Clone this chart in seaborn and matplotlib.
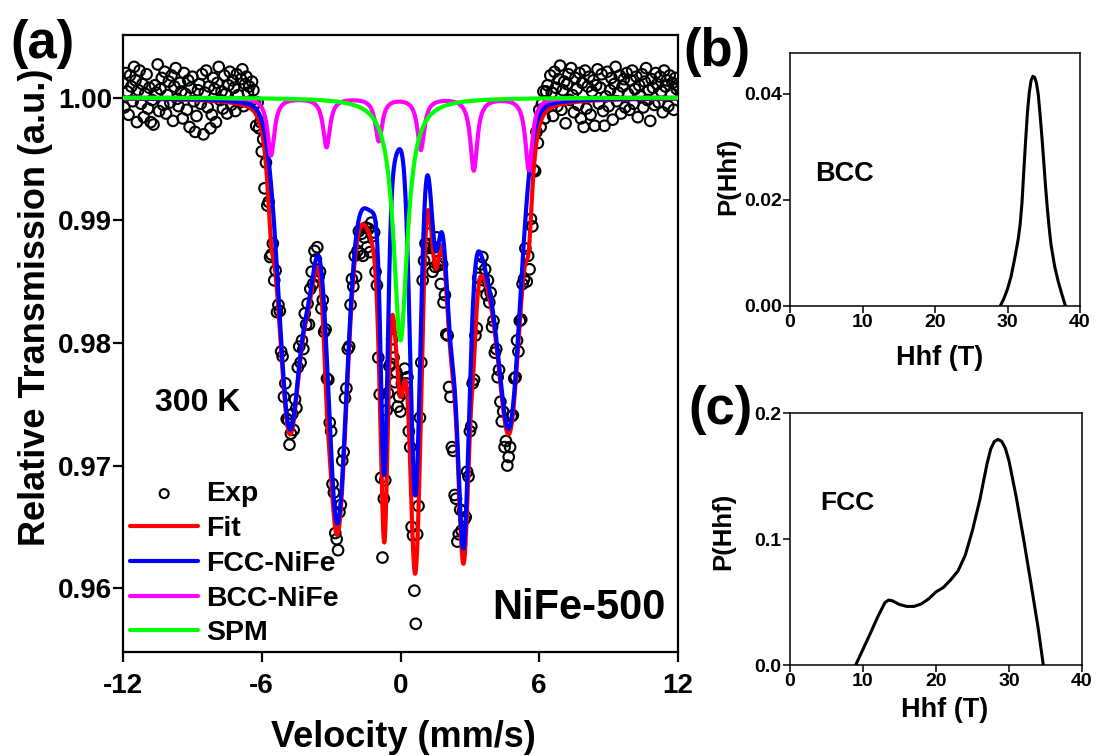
import numpy as np
import matplotlib
matplotlib.use("Agg")
import matplotlib.pyplot as plt
from matplotlib.ticker import FormatStrFormatter
import seaborn as sns

sns.set_theme(style="ticks")
plt.rcParams.update({
    "font.family": ["Liberation Sans", "DejaVu Sans"],
    "font.weight": "bold",
    "axes.labelweight": "bold",
    "axes.unicode_minus": False,
    "axes.edgecolor": "black",
    "axes.labelcolor": "black",
    "text.color": "black",
    "xtick.color": "black",
    "ytick.color": "black",
})

# ---------------- measured spectrum (400 channels, -12 ... +12 mm/s) ----------------
exp_left = [1.0012, 0.9992, 1.0020, 1.0005, 0.9986, 1.0018, 1.0009, 0.9997, 1.0025, 1.0014, 0.9980, 1.0006, 1.0022, 0.9995, 1.0011, 0.9984, 1.0003, 1.0019, 0.9991, 1.0008,
            0.9980, 0.9998, 0.9978, 1.0010, 1.0004, 1.0027, 0.9989, 1.0007, 1.0016, 0.9994, 1.0021, 0.9987, 1.0002, 1.0013, 0.9996, 1.0018, 0.9981, 1.0009, 1.0024, 0.9999,
            0.9993, 1.0012, 1.0005, 0.9983, 1.0020, 1.0003, 0.9990, 1.0014, 0.9976, 1.0008, 1.0017, 0.9997, 0.9972, 0.9985, 1.0006, 1.0011, 0.9995, 1.0019, 0.9970, 1.0004,
            1.0022, 0.9992, 1.0009, 0.9975, 0.9986, 1.0016, 1.0007, 0.9980, 1.0012, 1.0025, 0.9998, 1.0005, 0.9991, 1.0018, 1.0003, 0.9987, 1.0010, 1.0021, 0.9994, 1.0014,
            1.0008, 0.9989, 1.0019, 1.0002, 0.9996, 1.0015, 1.0023, 0.9993, 1.0011, 1.0017, 1.0004, 1.0009, 0.9997, 1.0013, 1.0006]
exp_mid = [0.9995, 0.9977, 0.9996, 0.9975, 0.9980, 0.9956, 0.9966, 0.9926, 0.9947, 0.9912, 0.9915, 0.9870, 0.9872, 0.9881, 0.9851, 0.9859, 0.9825, 0.9831, 0.9826, 0.9793,
           0.9789, 0.9756, 0.9767, 0.9738, 0.9737, 0.9717, 0.9726, 0.9742, 0.9729, 0.9754, 0.9747, 0.9780, 0.9797, 0.9784, 0.9802, 0.9795, 0.9824, 0.9815, 0.9832, 0.9815,
           0.9844, 0.9858, 0.9848, 0.9875, 0.9868, 0.9878, 0.9854, 0.9858, 0.9828, 0.9835, 0.9809, 0.9811, 0.9771, 0.9770, 0.9735, 0.9728, 0.9685, 0.9678, 0.9645, 0.9640,
           0.9631, 0.9662, 0.9668, 0.9704, 0.9711, 0.9755, 0.9763, 0.9795, 0.9797, 0.9831, 0.9852, 0.9846, 0.9871, 0.9854, 0.9875, 0.9891, 0.9873, 0.9889, 0.9871, 0.9886,
           0.9894, 0.9878, 0.9893, 0.9874, 0.9898, 0.9887, 0.9890, 0.9858, 0.9847, 0.9788, 0.9758, 0.9690, 0.9625, 0.9673, 0.9688, 0.9745, 0.9759, 0.9781, 0.9783, 0.9803,
           0.9788, 0.9768, 0.9776, 0.9748, 0.9756, 0.9744, 0.9767, 0.9759, 0.9779, 0.9767, 0.9772, 0.9728, 0.9715, 0.9650, 0.9643, 0.9598, 0.9571, 0.9644, 0.9667, 0.9739,
           0.9784, 0.9851, 0.9867, 0.9881, 0.9880, 0.9889, 0.9869, 0.9878, 0.9858, 0.9878, 0.9862, 0.9886, 0.9863, 0.9867, 0.9848, 0.9864, 0.9833, 0.9839, 0.9807, 0.9806,
           0.9764, 0.9756, 0.9715, 0.9712, 0.9676, 0.9673, 0.9638, 0.9644, 0.9664, 0.9647, 0.9663, 0.9656, 0.9658, 0.9695, 0.9691, 0.9728, 0.9732, 0.9767, 0.9770, 0.9806,
           0.9812, 0.9853, 0.9846, 0.9864, 0.9870, 0.9851, 0.9860, 0.9839, 0.9851, 0.9833, 0.9841, 0.9813, 0.9818, 0.9792, 0.9795, 0.9772, 0.9778, 0.9752, 0.9736, 0.9744,
           0.9715, 0.9720, 0.9700, 0.9707, 0.9715, 0.9740, 0.9741, 0.9771, 0.9772, 0.9802, 0.9793, 0.9818, 0.9819, 0.9848, 0.9852, 0.9877, 0.9850, 0.9871, 0.9860, 0.9901,
           0.9895, 0.9941, 0.9940, 0.9972, 0.9963, 0.9990, 0.9976, 0.9995, 1.0005, 0.9983, 1.0005]
exp_right = [1.0010, 0.9996, 1.0018, 1.0004, 0.9985, 1.0021, 1.0008, 0.9993, 1.0015, 1.0026, 0.9990, 1.0006, 1.0013, 0.9979, 1.0011, 1.0019, 0.9998, 1.0024, 1.0002, 0.9988,
             1.0016, 1.0007, 0.9994, 1.0020, 0.9983, 1.0012, 0.9976, 1.0022, 0.9991, 1.0009, 1.0017, 0.9986, 1.0005, 1.0014, 0.9977, 1.0010, 1.0023, 0.9995, 1.0008, 1.0019,
             0.9989, 0.9977, 1.0001, 1.0021, 0.9993, 1.0006, 1.0016, 0.9982, 1.0011, 1.0025, 0.9997, 1.0004, 1.0018, 0.9987, 1.0009, 1.0015, 0.9992, 1.0020, 1.0003, 0.9990,
             1.0014, 1.0022, 0.9995, 1.0007, 1.0017, 0.9984, 1.0010, 1.0001, 1.0019, 0.9992, 1.0013, 1.0024, 0.9998, 1.0006, 0.9981, 1.0015, 1.0008, 0.9994, 1.0020, 1.0011,
             0.9996, 1.0017, 1.0005, 0.9988, 1.0022, 1.0009, 1.0014, 0.9993, 1.0018, 1.0003, 1.0012, 0.9990, 1.0016, 1.0007, 1.0010]
exp_transmission = np.array(exp_left + exp_mid + exp_right)
exp_velocity = np.linspace(-12, 12, len(exp_transmission))

# ---------------- fitted sub-spectra: line centre (mm/s), depth, half width (mm/s) ----------------
fcc_center = [-4.788, -2.743, -0.700, 0.640, 2.720, 4.738, -3.899, 3.683, -1.200, 1.521, 2.157]
fcc_depth = [0.0263, 0.0330, 0.0236, 0.0312, 0.0317, 0.0240, 0.0089, 0.0110, 0.0081, 0.0105, 0.0151]
fcc_width = [0.570, 0.506, 0.176, 0.267, 0.300, 0.564, 0.378, 0.713, 0.900, 0.250, 0.287]
fcc_lorentz_fraction = 0.143

bcc_center = [-5.60, -3.20, -0.94, 0.88, 3.17, 5.55]
bcc_depth = [0.0047, 0.0040, 0.0035, 0.0042, 0.0059, 0.0059]
bcc_width = [0.18, 0.18, 0.18, 0.18, 0.18, 0.18]

spm_center = [0.0]
spm_depth = [0.0198]
spm_width = [0.36]

# ---------------- hyperfine field distributions ----------------
bcc_field = [29.0, 29.5, 30.0, 30.5, 31.0, 31.5, 31.75, 32.0, 32.25, 32.5, 32.75, 33.0, 33.25, 33.5, 33.75, 34.0,
             34.25, 34.5, 34.75, 35.0, 35.25, 35.5, 35.75, 36.0, 36.5, 37.0, 37.5, 38.0]
bcc_prob = [0.0000, 0.0014, 0.0032, 0.0056, 0.0090, 0.0128, 0.0155, 0.0195, 0.0255, 0.0312, 0.0365, 0.0402, 0.0425,
            0.0433, 0.0431, 0.0420, 0.0398, 0.0360, 0.0318, 0.0272, 0.0225, 0.0183, 0.0147, 0.0116, 0.0075, 0.0046,
            0.0022, 0.0000]
fcc_field = [9.0, 10.0, 11.0, 12.0, 13.0, 13.5, 14.0, 15.0, 16.0, 17.0, 18.0, 19.0, 20.0, 21.0, 22.0, 23.0, 24.0, 25.0,
             26.0, 27.0, 27.5, 28.0, 28.5, 29.0, 29.5, 30.0, 31.0, 32.0, 33.0, 34.0, 34.7]
fcc_prob = [0.000, 0.0125, 0.025, 0.038, 0.0495, 0.0515, 0.0510, 0.0480, 0.0465, 0.0465, 0.0485, 0.0525, 0.058, 0.0615,
            0.0675, 0.0745, 0.087, 0.107, 0.131, 0.160, 0.1715, 0.1775, 0.179, 0.1775, 0.172, 0.162, 0.133, 0.100, 0.065,
            0.029, 0.000]


def lorentz_sum(v, centers, depths, widths):
    out = np.zeros_like(v)
    for c, d, w in zip(centers, depths, widths):
        out += d / (1 + ((v - c) / w) ** 2)
    return out


def pseudo_voigt_sum(v, centers, depths, widths, eta):
    out = np.zeros_like(v)
    for c, d, w in zip(centers, depths, widths):
        x = (v - c) / w
        out += d * (eta / (1 + x * x) + (1 - eta) * np.exp(-np.log(2) * x * x))
    return out


v = np.linspace(-12, 12, 2401)
fcc_absorption = pseudo_voigt_sum(v, fcc_center, fcc_depth, fcc_width, fcc_lorentz_fraction)
bcc_absorption = lorentz_sum(v, bcc_center, bcc_depth, bcc_width)
spm_absorption = lorentz_sum(v, spm_center, spm_depth, spm_width)
fcc_curve = 1 - fcc_absorption
bcc_curve = 1 - bcc_absorption
spm_curve = 1 - spm_absorption
fit_curve = 1 - fcc_absorption - bcc_absorption - spm_absorption

fig = plt.figure(figsize=(10.97, 7.56), dpi=100)
axA = fig.add_axes([123 / 1097, 1 - 652 / 756, 555 / 1097, 617 / 756])
axB = fig.add_axes([790 / 1097, 1 - 306 / 756, 290 / 1097, 253 / 756])
axC = fig.add_axes([790 / 1097, 1 - 665 / 756, 292 / 1097, 252 / 756])

# ---------------- (a) Mossbauer spectrum ----------------
sns.scatterplot(x=exp_velocity, y=exp_transmission, ax=axA, s=58, marker="o", facecolor="none",
                edgecolor="black", linewidth=1.5, label="Exp", zorder=1)
sns.lineplot(x=v, y=fit_curve, ax=axA, color="#ff0000", lw=3, label="Fit", zorder=2, estimator=None)
sns.lineplot(x=v, y=fcc_curve, ax=axA, color="#0000ff", lw=3, label="FCC-NiFe", zorder=3, estimator=None)
sns.lineplot(x=v, y=bcc_curve, ax=axA, color="#ff00ff", lw=3, label="BCC-NiFe", zorder=4, estimator=None)
sns.lineplot(x=v, y=spm_curve, ax=axA, color="#00ff00", lw=3, label="SPM", zorder=5, estimator=None)

axA.set_xlim(-12, 12)
axA.set_ylim(0.9548, 1.0051)
axA.set_xticks([-12, -6, 0, 6, 12])
axA.set_yticks([0.96, 0.97, 0.98, 0.99, 1.00])
axA.yaxis.set_major_formatter(FormatStrFormatter("%.2f"))
axA.tick_params(axis="x", direction="out", length=7, width=1.6, labelsize=20, pad=8)
axA.tick_params(axis="y", direction="out", length=7, width=1.6, labelsize=20, pad=1)
for sp in axA.spines.values():
    sp.set_visible(True)
    sp.set_linewidth(1.6)
axA.set_xlabel("Velocity (mm/s)", fontsize=26, va="center")
axA.xaxis.set_label_coords(0.506, -0.139)
axA.set_ylabel("Relative Transmission (a.u.)", fontsize=26, va="center")
axA.yaxis.set_label_coords(-0.157, 0.559)
axA.text(-10.6, 0.9751, "300 K", fontsize=23, ha="left", va="center")
axA.text(3.98, 0.9584, "NiFe-500", fontsize=30, ha="left", va="center")

handles, labels = axA.get_legend_handles_labels()
order = ["Exp", "Fit", "FCC-NiFe", "BCC-NiFe", "SPM"]
hmap = dict(zip(labels, handles))
axA.legend([hmap[k] for k in order], order, loc="upper left", bbox_to_anchor=(0.0126, 0.277),
           frameon=False, fontsize=20.5, handlelength=2.4, handletextpad=0.28, labelspacing=0.31,
           borderpad=0, borderaxespad=0, scatterpoints=1, markerscale=0.85)

# ---------------- (b) BCC field distribution ----------------
sns.lineplot(x=bcc_field, y=bcc_prob, ax=axB, color="black", lw=2.2, estimator=None)
axB.set_xlim(0, 40)
axB.set_ylim(0, 0.0477)
axB.set_xticks([0, 10, 20, 30, 40])
axB.set_yticks([0.0, 0.02, 0.04])
axB.yaxis.set_major_formatter(FormatStrFormatter("%.2f"))
axB.text(3.45, 0.0249, "BCC", fontsize=19.5, ha="left", va="center")

# ---------------- (c) FCC field distribution ----------------
sns.lineplot(x=fcc_field, y=fcc_prob, ax=axC, color="black", lw=2.2, estimator=None)
axC.set_xlim(0, 40)
axC.set_ylim(0, 0.2)
axC.set_xticks([0, 10, 20, 30, 40])
axC.set_yticks([0.0, 0.1, 0.2])
axC.yaxis.set_major_formatter(FormatStrFormatter("%.1f"))
axC.text(4.1, 0.1286, "FCC", fontsize=19, ha="left", va="center")

for ax, ylab_xy, xlab_xy in ((axB, (-0.214, 0.514), (0.517, -0.206)), (axC, (-0.229, 0.532), (0.531, -0.179))):
    ax.tick_params(axis="both", direction="out", length=5, width=1.1, labelsize=14, pad=1)
    for sp in ax.spines.values():
        sp.set_visible(True)
        sp.set_linewidth(1.1)
    ax.set_xlabel("Hhf (T)", fontsize=19.5, va="center")
    ax.xaxis.set_label_coords(*xlab_xy)
    ax.set_ylabel("P(Hhf)", fontsize=18.5, va="center")
    ax.yaxis.set_label_coords(*ylab_xy)

fig.text(10 / 1097, 1 - 44 / 756, "(a)", fontsize=38, ha="left", va="center")
fig.text(683 / 1097, 1 - 52 / 756, "(b)", fontsize=38, ha="left", va="center")
fig.text(688 / 1097, 1 - 410 / 756, "(c)", fontsize=38, ha="left", va="center")

fig.savefig("out.png", dpi=100)
